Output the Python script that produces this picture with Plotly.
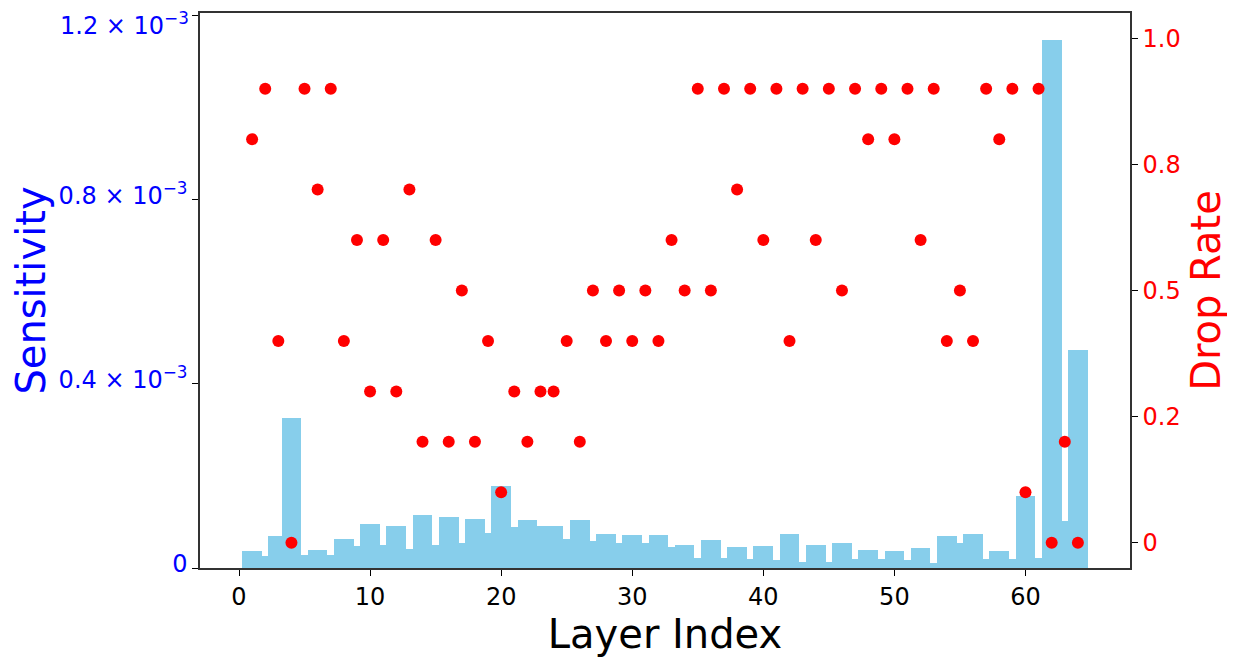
import plotly.graph_objects as go

layers = list(range(1, 65))
sensitivity = [
    0.0365e-3, 0.0265e-3, 0.0685e-3, 0.326e-3, 0.0287e-3, 0.0395e-3, 0.0287e-3, 0.0627e-3,
    0.0467e-3, 0.0946e-3, 0.0496e-3, 0.0917e-3, 0.0420e-3, 0.1157e-3, 0.0496e-3, 0.1098e-3,
    0.0533e-3, 0.1070e-3, 0.0765e-3, 0.1780e-3, 0.0887e-3, 0.1047e-3, 0.0917e-3, 0.0917e-3,
    0.0627e-3, 0.1047e-3, 0.0583e-3, 0.0735e-3, 0.0533e-3, 0.0707e-3, 0.0533e-3, 0.0707e-3,
    0.0446e-3, 0.0496e-3, 0.0213e-3, 0.0605e-3, 0.0213e-3, 0.0446e-3, 0.0185e-3, 0.0467e-3,
    0.0163e-3, 0.0735e-3, 0.0141e-3, 0.0496e-3, 0.0141e-3, 0.0533e-3, 0.0192e-3, 0.0395e-3,
    0.0192e-3, 0.0373e-3, 0.0163e-3, 0.0439e-3, 0.0113e-3, 0.0700e-3, 0.0533e-3, 0.0735e-3,
    0.0185e-3, 0.0365e-3, 0.0185e-3, 0.1570e-3, 0.0213e-3, 1.1470e-3, 0.1026e-3, 0.4730e-3,
]
drop_rate = [
    0.8, 0.9, 0.4, 0.0, 0.9, 0.7, 0.9, 0.4,
    0.6, 0.3, 0.6, 0.3, 0.7, 0.2, 0.6, 0.2,
    0.5, 0.2, 0.4, 0.1, 0.3, 0.2, 0.3, 0.3,
    0.4, 0.2, 0.5, 0.4, 0.5, 0.4, 0.5, 0.4,
    0.6, 0.5, 0.9, 0.5, 0.9, 0.7, 0.9, 0.6,
    0.9, 0.4, 0.9, 0.6, 0.9, 0.5, 0.9, 0.8,
    0.9, 0.8, 0.9, 0.6, 0.9, 0.4, 0.5, 0.4,
    0.9, 0.8, 0.9, 0.1, 0.9, 0.0, 0.2, 0.0,
]

x_ticks = [0, 10, 20, 30, 40, 50, 60]
left_tickvals = [0, 0.4e-3, 0.8e-3, 1.2e-3]
left_ticktext = ["0", "0.4 × 10<sup>−3</sup>", "0.8 × 10<sup>−3</sup>", ""]
top_tick_value = 1.2e-3
top_tick_text = "1.2 × 10<sup>−3</sup>"
right_tickvals = [0, 0.25, 0.5, 0.75, 1.0]
right_ticktext = ["0", "0.2", "0.5", "0.8", "1.0"]

FONT = "DejaVu Sans"
TICK = 24
TITLE = 40

fig = go.Figure()
fig.add_trace(go.Bar(
    x=layers, y=sensitivity, width=1.5,
    marker=dict(color="#87CEEB", line=dict(width=0)),
    yaxis="y", name="Sensitivity", showlegend=False,
))
fig.add_trace(go.Scatter(
    x=layers, y=drop_rate, mode="markers",
    marker=dict(color="red", size=12),
    yaxis="y2", name="Drop Rate", showlegend=False,
))

# top label of the left axis, nudged down so that it stays inside the page
fig.add_annotation(
    text=top_tick_text, xref="paper", x=0, xanchor="right", xshift=-9,
    yref="y", y=top_tick_value, yanchor="middle", yshift=-9,
    showarrow=False, font=dict(size=TICK, color="blue", family=FONT),
)

fig.update_layout(
    width=1227, height=651,
    margin=dict(l=192, r=105, t=5, b=91),
    paper_bgcolor="white", plot_bgcolor="white",
    font=dict(family=FONT),
    bargap=0,
    xaxis=dict(
        range=[-2.975, 67.975], tickvals=x_ticks, automargin=False,
        ticks="outside", ticklen=6, tickcolor="black", tickwidth=1.2,
        showline=True, linecolor="#333", linewidth=1.5, mirror=True,
        showgrid=False, zeroline=False, ticklabeloverflow="allow",
        tickfont=dict(size=TICK, color="black", family=FONT),
        title=dict(text="Layer Index", font=dict(size=TITLE, color="black", family=FONT), standoff=10),
    ),
    yaxis=dict(
        range=[0, 1.205e-3], tickvals=left_tickvals, ticktext=left_ticktext, automargin=False,
        ticks="outside", ticklen=6, tickcolor="black", tickwidth=1.2,
        showline=True, linecolor="#333", linewidth=1.5,
        showgrid=False, zeroline=False, ticklabeloverflow="allow", ticklabelshift=-4,
        tickfont=dict(size=TICK, color="blue", family=FONT),
        title=dict(text="Sensitivity", font=dict(size=TITLE, color="blue", family=FONT), standoff=10),
    ),
    yaxis2=dict(
        range=[-0.05, 1.05], tickvals=right_tickvals, ticktext=right_ticktext, automargin=False,
        overlaying="y", side="right",
        ticks="outside", ticklen=6, tickcolor="black", tickwidth=1.2,
        showline=True, linecolor="#333", linewidth=1.5,
        showgrid=False, zeroline=False, ticklabeloverflow="allow",
        tickfont=dict(size=TICK, color="red", family=FONT),
        title=dict(text="Drop Rate", font=dict(size=TITLE, color="red", family=FONT), standoff=12),
    ),
)

fig.write_html("out.html")
